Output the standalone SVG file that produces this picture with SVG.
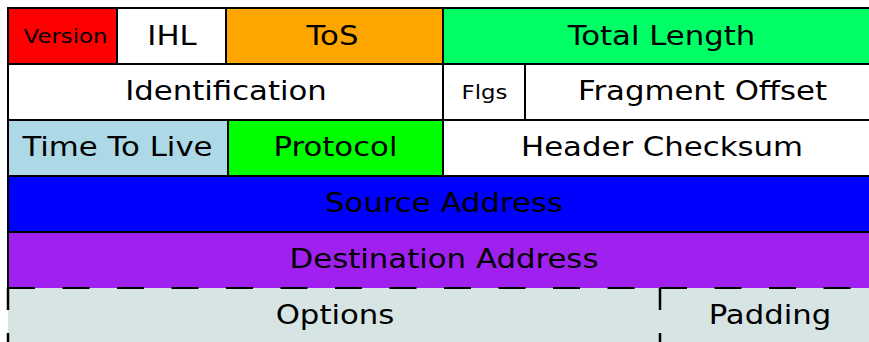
<svg xmlns="http://www.w3.org/2000/svg" width="869" height="342" viewBox="0 0 869 342">
<style>
.c{stroke:#000;stroke-width:2}
.l{stroke:#000;stroke-width:2;fill:none}
.dh{stroke:#000;stroke-width:2;stroke-dasharray:27 27.5;fill:none}
.dv{stroke:#000;stroke-width:2.5;stroke-dasharray:22 23;fill:none}
text{font-family:"DejaVu Sans",sans-serif;font-size:27px;text-anchor:middle;fill:#000}
.s{font-size:20px}
</style>
<rect width="869" height="342" fill="#fff"/>
<g id="version"><rect class="c" x="8" y="8" width="109" height="56" fill="#ff0000"/><text class="s" transform="translate(65.5,43) scale(1.14,1)">Version</text></g>
<g id="ihl"><rect class="c" x="117" y="8" width="109" height="56" fill="#ffffff"/><text transform="translate(172,45) scale(1.14,1)">IHL</text></g>
<g id="tos"><rect class="c" x="226" y="8" width="217" height="56" fill="#ffa500"/><text transform="translate(332.5,45) scale(1.14,1)">ToS</text></g>
<g id="total-length"><rect class="c" x="443" y="8" width="430" height="56" fill="#00ff66"/><text transform="translate(661.5,45) scale(1.14,1)">Total Length</text></g>
<g id="identification"><rect class="c" x="8" y="64" width="435" height="56" fill="#ffffff"/><text transform="translate(226,100) scale(1.14,1)">Identification</text></g>
<g id="flags"><rect class="c" x="443" y="64" width="82" height="56" fill="#ffffff"/><text class="s" transform="translate(484.5,98.5) scale(1.14,1)">Flgs</text></g>
<g id="fragment-offset"><rect class="c" x="525" y="64" width="348" height="56" fill="#ffffff"/><text transform="translate(702.5,100) scale(1.14,1)">Fragment Offset</text></g>
<g id="ttl"><rect class="c" x="8" y="120" width="220" height="56" fill="#add8e6"/><text transform="translate(117.5,156) scale(1.14,1)">Time To Live</text></g>
<g id="protocol"><rect class="c" x="228" y="120" width="215" height="56" fill="#00ff00"/><text transform="translate(335.5,156) scale(1.14,1)">Protocol</text></g>
<g id="checksum"><rect class="c" x="443" y="120" width="430" height="56" fill="#ffffff"/><text transform="translate(662,156) scale(1.14,1)">Header Checksum</text></g>
<g id="source"><rect class="c" x="8" y="176" width="865" height="56" fill="#0000ff"/><text transform="translate(444,212) scale(1.14,1)">Source Address</text></g>
<g id="destination"><rect x="8" y="232" width="865" height="56" fill="#a020f0"/><path class="l" d="M8 288V232H873"/><text transform="translate(444,268) scale(1.14,1)">Destination Address</text></g>
<g id="options"><rect x="8" y="288" width="652" height="60" fill="#d6e4e4"/><path class="dh" d="M8 288H660"/><path class="dv" d="M8 288V350"/><text transform="translate(335,324) scale(1.14,1)">Options</text></g>
<g id="padding"><rect x="660" y="288" width="213" height="60" fill="#d6e4e4"/><path class="dh" d="M660 288H873"/><path class="dv" d="M660 288V350"/><text transform="translate(770,324) scale(1.14,1)">Padding</text></g>
</svg>
